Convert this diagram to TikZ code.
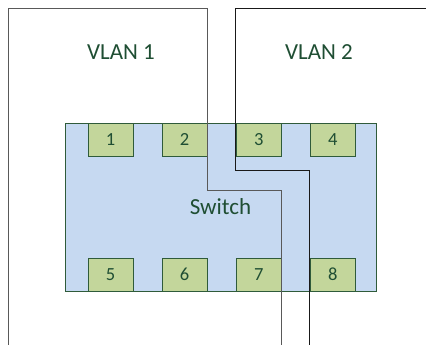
\documentclass[tikz,border=0pt]{standalone}
\usepackage{fontspec}
\setmainfont{Carlito}
\usepackage{xcolor}
\usetikzlibrary{positioning}
\definecolor{swfill}{HTML}{C6D9F1}
\definecolor{portfill}{HTML}{C3D69B}
\definecolor{boxgreen}{HTML}{2F5B3A}
\definecolor{txtgreen}{HTML}{1F4E33}
\tikzset{vlan edge/.style = {line width=1pt, line join=miter}}

\begin{document}
\begin{tikzpicture}[x=1pt,y=-1pt,node distance=28.33pt,
    sw node/.style={rectangle,draw=boxgreen,fill=swfill,line width=0.8pt,minimum width=311pt,minimum height=168pt,text=txtgreen,font=\fontsize{23}{28}\selectfont},
    port node/.style={rectangle,draw=boxgreen,fill=portfill,line width=0.8pt,minimum width=45pt,minimum height=33pt,inner sep=0pt,text=txtgreen,font=\fontsize{18.5}{22}\selectfont},
    vlan text/.style={text=txtgreen,font=\fontsize{23}{28}\selectfont}]
                \useasboundingbox (0,0) rectangle (426,345);

                \node[sw node] (sw) at (220.5,207) {Switch};

                % top row of ports
                \node[port node] (p1) [below right=0pt and 23pt of sw.north west] {1};
                \node[port node] (p2) [right=of p1] {2};
                \node[port node] (p3) [right=of p2] {3};
                \node[port node] (p4) [right=of p3] {4};
                % bottom row of ports
                \node[port node] (p5) [above right=0pt and 23pt of sw.south west] {5};
                \node[port node] (p6) [right=of p5] {6};
                \node[port node] (p7) [right=of p6] {7};
                \node[port node] (p8) [right=of p7] {8};

                \node[vlan text] (vlan1) at (121,52) {VLAN 1};
                \node[vlan text] (vlan2) at (319,52) {VLAN 2};

                % borders of the two vlans
                \draw[vlan edge, black!65] (8.5,345) |- (p2.north east |- 0,9)
                    -- (p2.north east |- 0,190) -| (p7.north east |- 0,345);
                \draw[vlan edge, black!90] (426,9) -| (p3.north west |- 0,170)
                    -| (p8.north west |- 0,345);
            \end{tikzpicture}
\end{document}
